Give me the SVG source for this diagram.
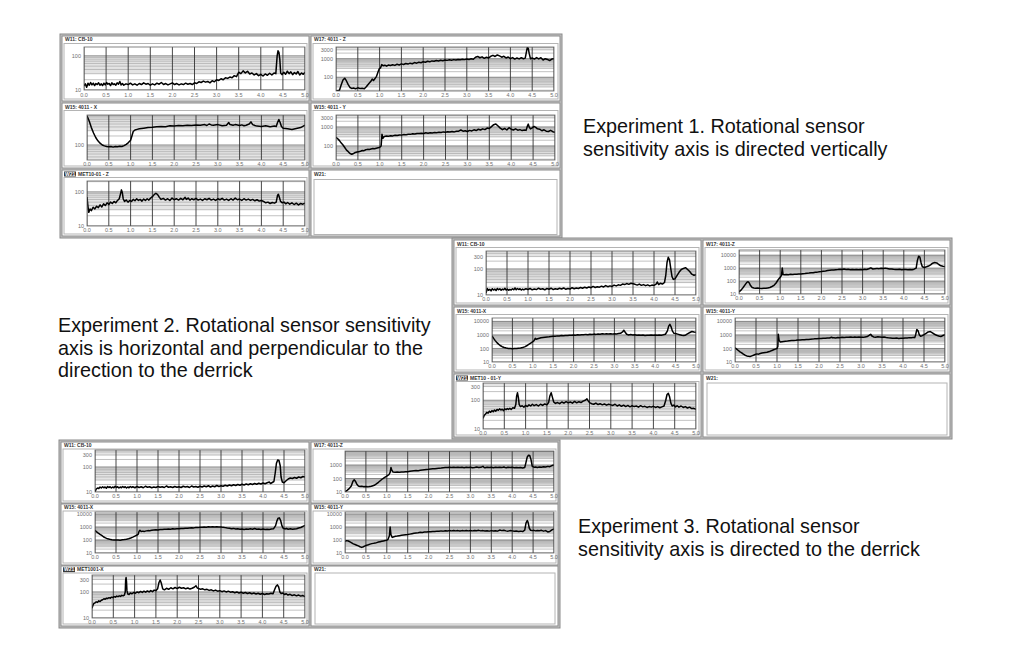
<svg xmlns="http://www.w3.org/2000/svg" xmlns:xlink="http://www.w3.org/1999/xlink" width="1024" height="662" viewBox="0 0 1024 662">
<style>
.pbg{fill:#c3c3c3;stroke:#8a8a8a;stroke-width:1}
.cell{fill:#fff;stroke:#8c8c8c;stroke-width:1}
.inner{fill:#fff;stroke:#b4b4b4;stroke-width:1}
.tr{fill:none;stroke:#000;stroke-width:1.5;stroke-linejoin:round}
.frame{fill:none;stroke:#666;stroke-width:0.8}
.hd{font-family:"Liberation Sans",Arial,sans-serif;font-weight:bold;font-size:5px;fill:#333}
.hw{font-family:"Liberation Sans",Arial,sans-serif;font-weight:bold;font-size:5px;fill:#fff}
.yl{font-family:"Liberation Sans",Arial,sans-serif;font-size:5.5px;fill:#707070;text-anchor:end}
.xl{font-family:"Liberation Sans",Arial,sans-serif;font-size:5.5px;fill:#707070;text-anchor:middle}
.cap{font-family:"Liberation Sans",Arial,sans-serif;font-size:19.8px;fill:#111}
</style>
<defs>
<g id="dec">
<rect x="0" y="-100" width="500" height="52.3" fill="#e4e4e4"/>
<path d="M0 -30.1H500M0 -47.7H500M0 -60.2H500M0 -69.9H500M0 -77.8H500M0 -84.5H500M0 -90.3H500M0 -95.4H500" fill="none" stroke="#a8a8a8" stroke-width="0.7" vector-effect="non-scaling-stroke"/>
</g>
<g id="grid">
<use xlink:href="#dec" href="#dec" y="-100"/>
<use xlink:href="#dec" href="#dec" y="-200"/>
<use xlink:href="#dec" href="#dec" y="-300"/>
<use xlink:href="#dec" href="#dec" y="-400"/>
<path d="M0 -100H500M0 -200H500M0 -300H500M0 -400H500M0 -500H500" fill="none" stroke="#7a7a7a" stroke-width="0.9" vector-effect="non-scaling-stroke"/>
<path d="M0 -500V-100M50 -500V-100M100 -500V-100M150 -500V-100M200 -500V-100M250 -500V-100M300 -500V-100M350 -500V-100M400 -500V-100M450 -500V-100M500 -500V-100" fill="none" stroke="#333" stroke-width="0.9" vector-effect="non-scaling-stroke"/>
</g>
<clipPath id="k1"><rect x="84" y="47" width="221" height="43"/></clipPath>
<clipPath id="k2"><rect x="336" y="47" width="218" height="44"/></clipPath>
<clipPath id="k3"><rect x="87" y="115" width="218" height="45"/></clipPath>
<clipPath id="k4"><rect x="336" y="115" width="219" height="45"/></clipPath>
<clipPath id="k5"><rect x="87" y="181" width="218" height="45"/></clipPath>
<clipPath id="k6"><rect x="486" y="251" width="210" height="44"/></clipPath>
<clipPath id="k7"><rect x="739" y="250" width="206" height="44"/></clipPath>
<clipPath id="k8"><rect x="492" y="318" width="204" height="44"/></clipPath>
<clipPath id="k9"><rect x="735" y="318" width="210" height="44"/></clipPath>
<clipPath id="k10"><rect x="483" y="383" width="213" height="46"/></clipPath>
<clipPath id="k11"><rect x="95" y="450" width="210" height="42"/></clipPath>
<clipPath id="k12"><rect x="345" y="451" width="209" height="41"/></clipPath>
<clipPath id="k13"><rect x="95" y="512" width="210" height="41"/></clipPath>
<clipPath id="k14"><rect x="345" y="512" width="209" height="41"/></clipPath>
<clipPath id="k15"><rect x="92" y="575" width="213" height="43"/></clipPath>
</defs>

<rect width="1024" height="662" fill="#fff"/>

<!-- ================= PANEL 1 ================= -->
<g id="experiment1">
<rect class="pbg" x="60" y="34" width="502" height="204"/>

<g id="e1-w11">
<rect class="cell" x="62" y="36" width="247" height="65"/>
<text class="hd" x="65" y="41">W11: CB-10</text>
<rect class="inner" x="64" y="43.5" width="243" height="55.5"/>
<g clip-path="url(#k1)"><rect x="84" y="47" width="221" height="43" fill="#fff"/>
<g transform="translate(84,124.13) scale(0.442,0.3413)"><use xlink:href="#grid" href="#grid"/>
<polyline class="tr" vector-effect="non-scaling-stroke" points="0,-112 3,-118 6,-108 9,-120 12,-114 15,-122 18,-115 21,-120 24,-113 27,-119 30,-116 33,-121 36,-114 39,-118 42,-113 45,-120 48,-115 51,-122 54,-117 57,-119 60,-113 63,-121 66,-116 69,-118 72,-114 75,-121 78,-117 81,-125 84,-115 87,-119 90,-114 95,-118 100,-116 105,-120 110,-115 115,-118 120,-114 125,-119 130,-116 135,-121 140,-117 145,-119 150,-114 155,-118 160,-115 165,-120 170,-117 175,-122 180,-116 185,-119 190,-115 195,-118 200,-121 205,-116 210,-119 215,-115 220,-118 225,-116 230,-120 235,-117 240,-119 245,-116 250,-121 255,-119 260,-124 265,-122 270,-126 275,-123 280,-125 285,-121 290,-127 295,-124 300,-130 305,-128 310,-133 315,-130 320,-136 325,-134 330,-138 335,-136 340,-142 345,-139 350,-152 355,-148 360,-156 365,-150 370,-155 375,-147 380,-150 385,-144 390,-148 395,-142 400,-146 405,-141 410,-147 415,-143 420,-149 425,-144 430,-150 434,-148 437,-200 439,-215 441,-210 443,-190 445,-150 448,-145 452,-152 456,-146 460,-155 464,-148 468,-153 472,-145 476,-151 480,-147 484,-154 488,-144 492,-150 496,-146 500,-152"/>
</g></g>
<rect class="frame" x="84" y="47" width="221" height="43"/>
<text class="yl" x="81" y="58">100</text><text class="yl" x="81" y="92">10</text>
<text class="xl" y="97"><tspan x="84">0.0</tspan><tspan x="106.1">0.5</tspan><tspan x="128.2">1.0</tspan><tspan x="150.3">1.5</tspan><tspan x="172.4">2.0</tspan><tspan x="194.5">2.5</tspan><tspan x="216.6">3.0</tspan><tspan x="238.7">3.5</tspan><tspan x="260.8">4.0</tspan><tspan x="282.9">4.5</tspan><tspan x="305">5.0</tspan></text>
</g>

<g id="e1-w17">
<rect class="cell" x="311" y="36" width="249" height="65"/>
<text class="hd" x="314" y="41">W17: 4011 - Z</text>
<rect class="inner" x="313" y="43.5" width="245" height="55.5"/>
<g clip-path="url(#k2)"><rect x="336" y="47" width="218" height="44" fill="#fff"/>
<g transform="translate(336,114.39) scale(0.436,0.18565)"><use xlink:href="#grid" href="#grid"/>
<polyline class="tr" vector-effect="non-scaling-stroke" points="0,-126 8,-130 12,-160 16,-185 20,-195 24,-180 28,-160 32,-145 36,-140 40,-142 45,-138 50,-143 55,-140 60,-141 65,-138 70,-150 75,-165 80,-178 83,-190 86,-183 90,-195 93,-205 96,-225 99,-245 102,-250 105,-268 108,-262 112,-265 116,-260 120,-266 125,-263 130,-267 135,-264 140,-270 145,-266 150,-272 155,-269 160,-274 165,-271 170,-276 175,-273 180,-279 185,-276 190,-281 195,-278 200,-284 205,-281 210,-286 215,-283 220,-288 225,-286 230,-290 235,-288 240,-292 245,-289 250,-293 255,-291 260,-294 265,-292 270,-295 275,-293 280,-296 285,-294 290,-297 295,-295 300,-298 305,-296 310,-300 315,-297 320,-308 325,-312 330,-305 335,-310 340,-302 345,-308 350,-304 355,-313 360,-318 365,-312 370,-320 375,-315 380,-308 385,-313 390,-304 395,-309 400,-300 405,-306 410,-298 415,-304 420,-299 425,-305 430,-300 434,-303 437,-340 439,-362 441,-355 443,-330 446,-300 450,-304 455,-298 460,-306 465,-299 470,-305 475,-293 480,-300 485,-296 490,-290 495,-298 500,-300"/>
</g></g>
<rect class="frame" x="336" y="47" width="218" height="44"/>
<text class="yl" x="333" y="51.8">3000</text><text class="yl" x="333" y="60.7">1000</text><text class="yl" x="333" y="79.3">100</text>
<text class="xl" y="97"><tspan x="336">0.0</tspan><tspan x="357.8">0.5</tspan><tspan x="379.6">1.0</tspan><tspan x="401.4">1.5</tspan><tspan x="423.2">2.0</tspan><tspan x="445">2.5</tspan><tspan x="466.8">3.0</tspan><tspan x="488.6">3.5</tspan><tspan x="510.4">4.0</tspan><tspan x="532.2">4.5</tspan><tspan x="554">5.0</tspan></text>
</g>

<g id="e1-w15x">
<rect class="cell" x="62" y="103" width="247" height="65"/>
<text class="hd" x="65" y="108.5">W15: 4011 - X</text>
<rect class="inner" x="64" y="110.5" width="243" height="55.5"/>
<g clip-path="url(#k3)"><rect x="87" y="115" width="218" height="45" fill="#fff"/>
<g transform="translate(87,205) scale(0.436,0.3)"><use xlink:href="#grid" href="#grid"/>
<polyline class="tr" vector-effect="non-scaling-stroke" points="0,-297 5,-280 10,-258 15,-240 20,-225 25,-214 30,-206 35,-200 40,-197 45,-195 50,-194 55,-195 60,-193 65,-195 70,-194 75,-196 80,-195 85,-198 90,-202 95,-208 100,-216 103,-230 106,-245 110,-250 115,-252 120,-254 130,-256 140,-258 150,-259 160,-261 170,-262 180,-261 190,-264 200,-263 210,-265 220,-264 230,-266 240,-265 250,-267 260,-266 270,-268 275,-265 280,-270 285,-267 290,-266 300,-268 310,-264 320,-266 325,-275 328,-268 335,-266 340,-268 350,-265 355,-267 360,-264 365,-266 372,-270 376,-277 380,-268 385,-265 390,-263 400,-262 410,-264 420,-261 430,-263 434,-262 437,-275 440,-285 443,-275 446,-262 450,-256 460,-254 470,-252 480,-255 490,-258 495,-262 500,-266"/>
</g></g>
<rect class="frame" x="87" y="115" width="218" height="45"/>
<text class="yl" x="84" y="147">100</text>
<text class="xl" y="166"><tspan x="87">0.0</tspan><tspan x="108.8">0.5</tspan><tspan x="130.6">1.0</tspan><tspan x="152.4">1.5</tspan><tspan x="174.2">2.0</tspan><tspan x="196">2.5</tspan><tspan x="217.8">3.0</tspan><tspan x="239.6">3.5</tspan><tspan x="261.4">4.0</tspan><tspan x="283.2">4.5</tspan><tspan x="305">5.0</tspan></text>
</g>

<g id="e1-w15y">
<rect class="cell" x="311" y="103" width="249" height="65"/>
<text class="hd" x="314" y="108.5">W15: 4011 - Y</text>
<rect class="inner" x="313" y="110.5" width="245" height="55.5"/>
<g clip-path="url(#k4)"><rect x="336" y="115" width="219" height="45" fill="#fff"/>
<g transform="translate(336,183.92) scale(0.438,0.18987)"><use xlink:href="#grid" href="#grid"/>
<polyline class="tr" vector-effect="non-scaling-stroke" points="0,-245 4,-238 8,-228 12,-215 16,-205 20,-192 24,-178 28,-170 32,-160 36,-156 40,-160 44,-166 48,-168 52,-170 56,-172 60,-176 64,-175 68,-180 72,-182 76,-181 80,-184 84,-186 88,-185 92,-188 96,-190 100,-193 103,-200 105,-262 107,-240 110,-250 115,-252 120,-251 125,-254 130,-253 135,-256 140,-255 145,-258 150,-257 155,-260 160,-259 165,-262 170,-261 175,-264 180,-263 185,-266 190,-265 195,-267 200,-266 205,-269 210,-267 215,-270 220,-268 225,-271 230,-270 235,-272 240,-271 245,-274 250,-272 255,-275 260,-273 265,-276 270,-274 275,-277 280,-278 285,-284 290,-278 295,-280 300,-276 305,-282 310,-279 315,-285 320,-281 325,-288 330,-284 335,-290 340,-286 345,-294 350,-292 355,-302 360,-312 365,-316 370,-305 375,-294 380,-286 385,-292 390,-284 395,-296 400,-288 405,-284 410,-290 415,-283 420,-286 425,-281 430,-284 434,-282 437,-305 439,-315 441,-300 444,-290 448,-295 452,-303 456,-298 460,-290 465,-288 470,-280 475,-285 480,-278 485,-276 490,-282 495,-275 500,-272"/>
</g></g>
<rect class="frame" x="336" y="115" width="219" height="45"/>
<text class="yl" x="333" y="119.9">3000</text><text class="yl" x="333" y="129">1000</text><text class="yl" x="333" y="147.9">100</text>
<text class="xl" y="166"><tspan x="336">0.0</tspan><tspan x="357.9">0.5</tspan><tspan x="379.8">1.0</tspan><tspan x="401.7">1.5</tspan><tspan x="423.6">2.0</tspan><tspan x="445.5">2.5</tspan><tspan x="467.4">3.0</tspan><tspan x="489.3">3.5</tspan><tspan x="511.2">4.0</tspan><tspan x="533.1">4.5</tspan><tspan x="555">5.0</tspan></text>
</g>

<g id="e1-w21met">
<rect class="cell" x="62" y="170" width="247" height="66"/>
<rect x="64" y="171.5" width="12" height="5" fill="#3a3a3a"/>
<text class="hw" x="65" y="175.5">W21</text>
<text class="hd" x="78" y="175.5">MET10-01 - Z</text>
<rect class="inner" x="64" y="177.5" width="243" height="56.5"/>
<g clip-path="url(#k5)"><rect x="87" y="181" width="218" height="45" fill="#fff"/>
<g transform="translate(87,260.09) scale(0.436,0.34091)"><use xlink:href="#grid" href="#grid"/>
<polyline class="tr" vector-effect="non-scaling-stroke" points="0,-185 2,-160 4,-140 7,-150 10,-145 14,-155 18,-150 22,-158 26,-154 30,-162 34,-156 38,-165 42,-160 46,-168 50,-163 54,-170 58,-166 62,-172 66,-168 70,-175 74,-180 77,-195 79,-206 81,-198 83,-180 86,-172 90,-176 94,-170 98,-175 102,-172 106,-178 110,-174 114,-180 118,-175 122,-178 126,-173 130,-179 134,-175 138,-180 142,-176 146,-182 150,-186 154,-192 158,-196 162,-192 166,-184 170,-178 175,-181 180,-176 185,-180 190,-175 195,-182 200,-177 205,-180 210,-176 215,-181 220,-177 225,-184 228,-178 232,-182 236,-176 240,-180 245,-177 250,-181 255,-176 260,-179 265,-175 270,-180 275,-177 280,-181 285,-176 290,-179 295,-175 300,-180 305,-177 310,-181 315,-176 320,-179 325,-175 330,-180 335,-176 340,-182 345,-177 350,-179 355,-175 360,-180 365,-176 370,-179 375,-175 380,-178 385,-174 390,-177 395,-173 400,-175 405,-172 410,-168 415,-170 420,-166 425,-169 430,-167 434,-170 437,-190 439,-193 441,-185 444,-172 448,-168 452,-170 456,-165 460,-169 465,-164 470,-168 475,-163 480,-167 485,-162 490,-166 495,-164 500,-167"/>
</g></g>
<rect class="frame" x="87" y="181" width="218" height="45"/>
<text class="yl" x="84" y="193.9">100</text><text class="yl" x="84" y="228">10</text>
<text class="xl" y="232"><tspan x="87">0.0</tspan><tspan x="108.8">0.5</tspan><tspan x="130.6">1.0</tspan><tspan x="152.4">1.5</tspan><tspan x="174.2">2.0</tspan><tspan x="196">2.5</tspan><tspan x="217.8">3.0</tspan><tspan x="239.6">3.5</tspan><tspan x="261.4">4.0</tspan><tspan x="283.2">4.5</tspan><tspan x="305">5.0</tspan></text>
</g>

<g id="e1-w21">
<rect class="cell" x="311" y="170" width="249" height="66"/>
<text class="hd" x="314" y="175.5">W21:</text>
<rect class="inner" x="314" y="179.5" width="243" height="55"/>
</g>
</g>

<!-- ================= PANEL 2 ================= -->
<g id="experiment2">
<rect class="pbg" x="452" y="238" width="500" height="201"/>

<g id="e2-w11">
<rect class="cell" x="454" y="240" width="247" height="65"/>
<text class="hd" x="457" y="245.5">W11: CB-10</text>
<rect class="inner" x="456" y="247.5" width="243" height="55.5"/>
<g clip-path="url(#k6)"><rect x="486" y="251" width="210" height="44" fill="#fff"/>
<g transform="translate(486,321.04) scale(0.42,0.26036)"><use xlink:href="#grid" href="#grid"/>
<polyline class="tr" vector-effect="non-scaling-stroke" points="0,-108 3,-125 6,-118 9,-122 12,-116 15,-124 18,-119 21,-123 24,-117 27,-125 30,-120 33,-124 36,-118 39,-123 42,-120 45,-126 48,-119 51,-123 54,-118 57,-122 60,-119 63,-124 66,-120 69,-127 72,-120 75,-125 78,-121 81,-124 84,-119 87,-123 90,-120 95,-124 100,-121 105,-125 110,-120 115,-123 120,-121 125,-126 130,-122 135,-124 140,-120 145,-125 150,-122 155,-126 160,-121 165,-124 170,-122 175,-126 180,-123 185,-127 190,-122 195,-125 200,-123 205,-128 210,-124 215,-127 220,-125 225,-129 230,-126 235,-130 240,-127 245,-131 250,-128 255,-133 260,-129 265,-132 270,-130 275,-134 280,-131 285,-136 290,-132 295,-135 300,-133 305,-138 310,-135 315,-139 320,-137 325,-142 330,-140 335,-144 340,-141 345,-145 350,-143 355,-141 360,-138 365,-142 370,-137 375,-140 380,-136 385,-139 390,-135 395,-138 400,-137 405,-142 408,-150 411,-140 415,-145 420,-142 425,-148 428,-175 431,-225 434,-245 437,-235 440,-200 443,-170 446,-160 450,-162 455,-175 460,-188 465,-198 470,-202 475,-205 480,-198 485,-190 490,-180 495,-176 500,-178"/>
</g></g>
<rect class="frame" x="486" y="251" width="210" height="44"/>
<text class="yl" x="483" y="258.5">300</text><text class="yl" x="483" y="271">100</text><text class="yl" x="483" y="297">10</text>
<text class="xl" y="301"><tspan x="486">0.0</tspan><tspan x="507">0.5</tspan><tspan x="528">1.0</tspan><tspan x="549">1.5</tspan><tspan x="570">2.0</tspan><tspan x="591">2.5</tspan><tspan x="612">3.0</tspan><tspan x="633">3.5</tspan><tspan x="654">4.0</tspan><tspan x="675">4.5</tspan><tspan x="696">5.0</tspan></text>
</g>

<g id="e2-w17">
<rect class="cell" x="703" y="240" width="247" height="65"/>
<text class="hd" x="706" y="245.5">W17: 4011-Z</text>
<rect class="inner" x="705" y="247.5" width="243" height="55.5"/>
<g clip-path="url(#k7)"><rect x="739" y="250" width="206" height="44" fill="#fff"/>
<g transform="translate(739,306.94) scale(0.412,0.12941)"><use xlink:href="#grid" href="#grid"/>
<polyline class="tr" vector-effect="non-scaling-stroke" points="0,-117 5,-130 10,-150 15,-172 19,-190 22,-195 25,-185 28,-165 32,-150 36,-147 40,-145 45,-146 50,-144 55,-143 60,-145 65,-144 70,-147 75,-150 80,-158 85,-167 90,-185 95,-210 100,-230 103,-242 105,-300 107,-250 110,-248 115,-250 120,-249 125,-252 130,-250 135,-253 140,-252 145,-255 150,-254 155,-257 160,-258 165,-261 170,-262 175,-265 180,-264 185,-268 190,-269 195,-272 200,-273 205,-276 210,-278 215,-281 220,-283 225,-285 230,-286 235,-288 240,-289 245,-291 250,-290 255,-293 260,-290 265,-291 270,-288 275,-290 280,-287 285,-289 290,-288 295,-290 300,-288 305,-291 310,-290 315,-295 320,-302 325,-293 330,-296 335,-298 340,-296 345,-299 350,-297 355,-300 360,-297 365,-294 370,-293 375,-291 380,-290 385,-289 390,-291 395,-288 400,-290 405,-289 410,-287 415,-290 420,-288 425,-292 430,-300 433,-360 436,-392 439,-385 442,-340 445,-310 450,-305 455,-310 460,-316 465,-325 470,-338 475,-343 480,-340 485,-328 490,-318 495,-315 500,-313"/>
</g></g>
<rect class="frame" x="739" y="250" width="206" height="44"/>
<text class="yl" x="736" y="257.2">10000</text><text class="yl" x="736" y="270.1">1000</text><text class="yl" x="736" y="283.1">100</text><text class="yl" x="736" y="296">10</text>
<text class="xl" y="300"><tspan x="739">0.0</tspan><tspan x="759.6">0.5</tspan><tspan x="780.2">1.0</tspan><tspan x="800.8">1.5</tspan><tspan x="821.4">2.0</tspan><tspan x="842">2.5</tspan><tspan x="862.6">3.0</tspan><tspan x="883.2">3.5</tspan><tspan x="903.8">4.0</tspan><tspan x="924.4">4.5</tspan><tspan x="945">5.0</tspan></text>
</g>

<g id="e2-w15x">
<rect class="cell" x="454" y="307" width="247" height="65"/>
<text class="hd" x="457" y="312.5">W15: 4011-X</text>
<rect class="inner" x="456" y="314.5" width="243" height="55.5"/>
<g clip-path="url(#k8)"><rect x="492" y="318" width="204" height="44" fill="#fff"/>
<g transform="translate(492,375.54) scale(0.408,0.13538)"><use xlink:href="#grid" href="#grid"/>
<polyline class="tr" vector-effect="non-scaling-stroke" points="0,-293 4,-275 8,-258 12,-243 16,-232 20,-222 25,-213 30,-207 35,-203 40,-200 45,-199 50,-198 55,-200 60,-199 65,-201 70,-203 75,-207 80,-212 85,-220 90,-230 95,-240 100,-250 103,-258 106,-275 108,-268 112,-272 116,-276 120,-279 125,-281 130,-283 135,-285 140,-286 145,-288 150,-290 155,-291 160,-293 165,-292 170,-295 175,-294 180,-296 185,-295 190,-298 195,-297 200,-299 205,-298 210,-301 215,-300 220,-302 225,-301 230,-304 235,-302 240,-305 245,-303 250,-306 255,-304 260,-307 265,-305 270,-308 275,-306 280,-309 285,-307 290,-308 295,-306 300,-309 305,-307 310,-310 315,-312 320,-322 323,-335 326,-322 330,-305 335,-300 340,-303 345,-299 350,-302 355,-298 360,-300 365,-297 370,-299 375,-296 380,-298 385,-297 390,-300 395,-297 400,-299 405,-297 410,-300 415,-298 420,-301 425,-305 430,-330 433,-365 436,-378 439,-360 442,-330 446,-312 450,-310 455,-306 460,-302 465,-298 470,-295 475,-300 480,-310 485,-318 490,-325 495,-322 500,-320"/>
</g></g>
<rect class="frame" x="492" y="318" width="204" height="44"/>
<text class="yl" x="489" y="323.4">10000</text><text class="yl" x="489" y="336.9">1000</text><text class="yl" x="489" y="350.5">100</text><text class="yl" x="489" y="364">10</text>
<text class="xl" y="368"><tspan x="492">0.0</tspan><tspan x="512.4">0.5</tspan><tspan x="532.8">1.0</tspan><tspan x="553.2">1.5</tspan><tspan x="573.6">2.0</tspan><tspan x="594">2.5</tspan><tspan x="614.4">3.0</tspan><tspan x="634.8">3.5</tspan><tspan x="655.2">4.0</tspan><tspan x="675.6">4.5</tspan><tspan x="696">5.0</tspan></text>
</g>

<g id="e2-w15y">
<rect class="cell" x="703" y="307" width="247" height="65"/>
<text class="hd" x="706" y="312.5">W15: 4011-Y</text>
<rect class="inner" x="705" y="314.5" width="243" height="55.5"/>
<g clip-path="url(#k9)"><rect x="735" y="318" width="210" height="44" fill="#fff"/>
<g transform="translate(735,375.54) scale(0.42,0.13538)"><use xlink:href="#grid" href="#grid"/>
<polyline class="tr" vector-effect="non-scaling-stroke" points="0,-205 4,-195 8,-185 12,-175 16,-168 20,-158 24,-150 28,-145 32,-142 36,-140 40,-145 44,-150 48,-155 52,-160 56,-158 60,-163 64,-166 68,-168 72,-170 76,-172 80,-176 84,-180 88,-185 92,-190 96,-195 100,-200 102,-215 103,-305 105,-260 108,-248 112,-250 116,-252 120,-254 125,-255 130,-257 135,-258 140,-259 145,-260 150,-262 155,-263 160,-265 165,-264 170,-267 175,-266 180,-268 185,-269 190,-271 195,-272 200,-274 205,-273 210,-276 215,-275 220,-278 225,-277 230,-283 233,-278 235,-280 240,-278 245,-281 250,-280 255,-283 260,-281 265,-283 270,-282 275,-284 280,-282 285,-285 290,-283 295,-284 300,-283 305,-282 310,-285 315,-288 320,-298 323,-305 326,-292 330,-285 335,-283 340,-286 345,-284 350,-282 355,-284 360,-281 365,-279 370,-278 375,-276 380,-275 385,-277 390,-274 395,-276 400,-275 405,-278 410,-277 415,-280 420,-279 425,-282 428,-280 430,-300 433,-340 436,-330 439,-300 442,-290 446,-295 450,-302 455,-312 460,-322 465,-325 470,-315 475,-305 480,-298 485,-292 490,-288 495,-296 500,-302"/>
</g></g>
<rect class="frame" x="735" y="318" width="210" height="44"/>
<text class="yl" x="732" y="323.4">10000</text><text class="yl" x="732" y="336.9">1000</text><text class="yl" x="732" y="350.5">100</text><text class="yl" x="732" y="364">10</text>
<text class="xl" y="368"><tspan x="735">0.0</tspan><tspan x="756">0.5</tspan><tspan x="777">1.0</tspan><tspan x="798">1.5</tspan><tspan x="819">2.0</tspan><tspan x="840">2.5</tspan><tspan x="861">3.0</tspan><tspan x="882">3.5</tspan><tspan x="903">4.0</tspan><tspan x="924">4.5</tspan><tspan x="945">5.0</tspan></text>
</g>

<g id="e2-w21met">
<rect class="cell" x="454" y="374" width="247" height="63"/>
<rect x="456" y="375.5" width="12" height="5" fill="#3a3a3a"/>
<text class="hw" x="457" y="379.5">W21</text>
<text class="hd" x="470" y="379.5">MET10 - 01-Y</text>
<rect class="inner" x="456" y="381.5" width="243" height="53.5"/>
<g clip-path="url(#k10)"><rect x="483" y="383" width="213" height="46" fill="#fff"/>
<g transform="translate(483,457.75) scale(0.426,0.2875)"><use xlink:href="#grid" href="#grid"/>
<polyline class="tr" vector-effect="non-scaling-stroke" points="0,-137 3,-148 6,-152 9,-158 12,-155 15,-162 18,-158 21,-164 24,-160 27,-166 30,-162 33,-168 36,-165 39,-170 42,-166 45,-169 48,-164 51,-170 54,-167 57,-171 60,-168 63,-172 66,-168 70,-174 74,-172 77,-185 79,-215 81,-226 83,-210 85,-185 88,-178 92,-181 96,-176 100,-182 104,-178 108,-184 112,-180 116,-186 120,-181 125,-185 130,-180 135,-186 140,-182 145,-187 150,-184 154,-192 157,-215 160,-226 163,-210 166,-194 170,-189 175,-192 180,-188 185,-194 190,-190 195,-195 200,-191 205,-194 210,-190 215,-196 220,-191 225,-195 230,-192 235,-197 240,-200 244,-205 247,-198 250,-192 255,-188 260,-186 265,-190 270,-185 275,-188 280,-184 285,-187 290,-183 295,-186 300,-184 305,-182 310,-186 315,-180 320,-184 325,-179 330,-183 335,-178 340,-182 345,-177 350,-181 355,-178 360,-180 365,-176 370,-181 375,-177 380,-179 385,-175 390,-178 395,-176 400,-179 405,-175 410,-178 415,-174 420,-177 425,-180 429,-200 432,-220 435,-224 438,-212 441,-190 444,-180 448,-183 452,-177 456,-181 460,-176 465,-180 470,-175 475,-178 480,-173 485,-176 490,-171 495,-172 500,-168"/>
</g></g>
<rect class="frame" x="483" y="383" width="213" height="46"/>
<text class="yl" x="480" y="388.5">300</text><text class="yl" x="480" y="402.2">100</text><text class="yl" x="480" y="431">10</text>
<text class="xl" y="435"><tspan x="483">0.0</tspan><tspan x="504.3">0.5</tspan><tspan x="525.6">1.0</tspan><tspan x="546.9">1.5</tspan><tspan x="568.2">2.0</tspan><tspan x="589.5">2.5</tspan><tspan x="610.8">3.0</tspan><tspan x="632.1">3.5</tspan><tspan x="653.4">4.0</tspan><tspan x="674.7">4.5</tspan><tspan x="696">5.0</tspan></text>
</g>

<g id="e2-w21">
<rect class="cell" x="703" y="374" width="247" height="63"/>
<text class="hd" x="706" y="379.5">W21:</text>
<rect class="inner" x="707" y="383" width="240" height="52"/>
</g>
</g>

<!-- ================= PANEL 3 ================= -->
<g id="experiment3">
<rect class="pbg" x="59" y="440" width="501" height="188"/>

<g id="e3-w11">
<rect class="cell" x="61" y="442" width="248" height="61"/>
<text class="hd" x="64" y="447">W11: CB-10</text>
<rect class="inner" x="63" y="449" width="244" height="52"/>
<g clip-path="url(#k11)"><rect x="95" y="450" width="210" height="42" fill="#fff"/>
<g transform="translate(95,517) scale(0.42,0.25)"><use xlink:href="#grid" href="#grid"/>
<polyline class="tr" vector-effect="non-scaling-stroke" points="0,-101 3,-112 6,-116 9,-114 12,-120 15,-116 18,-121 21,-117 24,-120 27,-115 30,-122 33,-118 36,-121 39,-116 42,-120 45,-117 48,-123 51,-118 54,-121 57,-116 60,-120 63,-117 66,-122 69,-118 72,-121 75,-116 78,-120 81,-117 84,-122 87,-118 90,-121 95,-117 100,-122 105,-118 110,-121 115,-117 120,-123 125,-119 130,-121 135,-117 140,-120 145,-118 150,-122 155,-119 160,-121 165,-118 170,-124 175,-119 180,-121 185,-118 190,-122 195,-119 200,-121 205,-118 210,-123 215,-120 220,-122 225,-118 230,-124 235,-120 240,-122 245,-119 250,-123 255,-120 260,-124 265,-121 270,-125 275,-120 280,-124 285,-121 290,-126 295,-122 300,-125 305,-123 310,-127 315,-124 320,-128 325,-125 330,-129 335,-126 340,-130 345,-127 350,-131 355,-128 360,-132 365,-129 370,-133 375,-130 380,-134 385,-131 390,-135 395,-132 400,-136 405,-133 410,-137 415,-140 418,-134 422,-138 426,-142 429,-175 432,-215 435,-228 438,-226 441,-205 443,-160 446,-140 450,-137 455,-145 460,-152 465,-156 470,-154 475,-158 480,-155 485,-160 490,-157 495,-162 500,-160"/>
</g></g>
<rect class="frame" x="95" y="450" width="210" height="42"/>
<text class="yl" x="92" y="457.1">300</text><text class="yl" x="92" y="469">100</text><text class="yl" x="92" y="494">10</text>
<text class="xl" y="498"><tspan x="95">0.0</tspan><tspan x="116">0.5</tspan><tspan x="137">1.0</tspan><tspan x="158">1.5</tspan><tspan x="179">2.0</tspan><tspan x="200">2.5</tspan><tspan x="221">3.0</tspan><tspan x="242">3.5</tspan><tspan x="263">4.0</tspan><tspan x="284">4.5</tspan><tspan x="305">5.0</tspan></text>
</g>

<g id="e3-w17">
<rect class="cell" x="311" y="442" width="247" height="61"/>
<text class="hd" x="314" y="447">W17: 4011-Z</text>
<rect class="inner" x="313" y="449" width="243" height="52"/>
<g clip-path="url(#k12)"><rect x="345" y="451" width="209" height="41" fill="#fff"/>
<g transform="translate(345,505.49) scale(0.418,0.13487)"><use xlink:href="#grid" href="#grid"/>
<polyline class="tr" vector-effect="non-scaling-stroke" points="0,-100 5,-112 10,-125 15,-145 19,-180 22,-190 25,-180 28,-160 32,-145 36,-140 40,-142 45,-139 50,-141 55,-138 60,-140 65,-145 70,-150 75,-160 80,-172 85,-185 90,-198 95,-208 100,-218 105,-228 108,-245 110,-282 112,-262 115,-248 120,-246 125,-248 130,-247 135,-249 140,-248 145,-250 150,-251 155,-253 160,-255 165,-257 170,-259 175,-258 180,-261 185,-263 190,-265 195,-267 200,-268 205,-270 210,-272 215,-273 220,-275 225,-277 230,-278 235,-280 240,-281 245,-282 250,-283 255,-281 260,-284 265,-282 270,-284 275,-281 280,-283 285,-280 290,-284 295,-281 300,-283 305,-280 310,-282 315,-285 320,-281 325,-283 330,-290 333,-282 335,-280 340,-283 345,-281 350,-284 355,-280 360,-283 365,-281 370,-284 375,-281 380,-286 383,-282 386,-280 390,-284 395,-281 400,-283 405,-280 410,-282 415,-279 420,-281 425,-278 430,-282 433,-320 436,-360 439,-372 442,-370 445,-340 448,-290 452,-284 456,-286 460,-282 465,-285 470,-283 475,-287 480,-285 485,-290 490,-288 495,-296 500,-300"/>
</g></g>
<rect class="frame" x="345" y="451" width="209" height="41"/>
<text class="yl" x="342" y="467">1000</text><text class="yl" x="342" y="480.5">100</text><text class="yl" x="342" y="494">10</text>
<text class="xl" y="498"><tspan x="345">0.0</tspan><tspan x="365.9">0.5</tspan><tspan x="386.8">1.0</tspan><tspan x="407.7">1.5</tspan><tspan x="428.6">2.0</tspan><tspan x="449.5">2.5</tspan><tspan x="470.4">3.0</tspan><tspan x="491.3">3.5</tspan><tspan x="512.2">4.0</tspan><tspan x="533.1">4.5</tspan><tspan x="554">5.0</tspan></text>
</g>

<g id="e3-w15x">
<rect class="cell" x="61" y="504" width="248" height="61"/>
<text class="hd" x="64" y="509">W15: 4011-X</text>
<rect class="inner" x="63" y="511" width="244" height="52"/>
<g clip-path="url(#k13)"><rect x="95" y="512" width="210" height="41" fill="#fff"/>
<g transform="translate(95,566.02) scale(0.42,0.13016)"><use xlink:href="#grid" href="#grid"/>
<polyline class="tr" vector-effect="non-scaling-stroke" points="0,-275 4,-262 8,-252 12,-243 16,-235 20,-225 25,-216 30,-209 35,-205 40,-202 45,-200 50,-199 55,-200 60,-198 65,-201 70,-203 75,-206 80,-210 85,-215 90,-222 95,-230 100,-238 103,-245 105,-268 107,-275 110,-265 114,-268 118,-266 122,-270 126,-272 130,-271 135,-274 140,-276 145,-278 150,-277 155,-280 160,-281 165,-283 170,-282 175,-284 180,-283 185,-286 190,-285 195,-287 200,-286 205,-289 210,-288 215,-291 220,-290 225,-292 230,-294 235,-293 240,-296 245,-295 250,-297 255,-298 260,-300 265,-298 270,-301 275,-300 280,-302 285,-300 290,-301 295,-299 300,-300 305,-297 310,-295 315,-292 320,-290 325,-287 330,-289 335,-284 340,-286 345,-283 350,-285 355,-281 360,-284 365,-282 370,-286 375,-283 380,-288 385,-282 390,-285 395,-281 400,-284 405,-280 410,-283 415,-281 420,-284 425,-286 430,-310 433,-345 436,-368 439,-370 442,-350 445,-310 448,-290 452,-285 456,-288 460,-283 465,-286 470,-282 475,-285 480,-287 485,-292 490,-296 495,-305 500,-312"/>
</g></g>
<rect class="frame" x="95" y="512" width="210" height="41"/>
<text class="yl" x="92" y="516">10000</text><text class="yl" x="92" y="529">1000</text><text class="yl" x="92" y="542">100</text><text class="yl" x="92" y="555">10</text>
<text class="xl" y="559"><tspan x="95">0.0</tspan><tspan x="116">0.5</tspan><tspan x="137">1.0</tspan><tspan x="158">1.5</tspan><tspan x="179">2.0</tspan><tspan x="200">2.5</tspan><tspan x="221">3.0</tspan><tspan x="242">3.5</tspan><tspan x="263">4.0</tspan><tspan x="284">4.5</tspan><tspan x="305">5.0</tspan></text>
</g>

<g id="e3-w15y">
<rect class="cell" x="311" y="504" width="247" height="61"/>
<text class="hd" x="314" y="509">W15: 4011-Y</text>
<rect class="inner" x="313" y="511" width="243" height="52"/>
<g clip-path="url(#k14)"><rect x="345" y="512" width="209" height="41" fill="#fff"/>
<g transform="translate(345,566.02) scale(0.418,0.13016)"><use xlink:href="#grid" href="#grid"/>
<polyline class="tr" vector-effect="non-scaling-stroke" points="0,-190 4,-195 8,-192 12,-185 16,-178 20,-170 24,-165 28,-160 32,-155 36,-148 40,-143 44,-148 48,-155 52,-160 56,-163 60,-168 64,-172 68,-174 72,-176 76,-180 80,-184 84,-187 88,-190 92,-193 96,-196 100,-198 103,-205 106,-230 108,-300 110,-240 113,-220 117,-225 121,-228 125,-230 130,-233 135,-236 140,-238 145,-240 150,-242 155,-245 160,-248 165,-251 170,-254 175,-256 180,-259 185,-258 190,-262 195,-261 200,-264 205,-263 210,-266 215,-265 220,-268 225,-267 230,-270 235,-268 240,-271 245,-269 250,-272 255,-270 260,-273 265,-270 270,-272 275,-269 280,-272 285,-270 290,-273 295,-270 300,-272 305,-270 310,-273 315,-271 320,-274 325,-270 330,-272 335,-269 340,-271 345,-268 350,-272 355,-269 360,-271 365,-268 370,-276 375,-272 380,-275 385,-270 390,-268 395,-272 400,-270 405,-267 410,-269 415,-266 420,-268 425,-265 430,-275 433,-330 436,-350 438,-335 441,-290 444,-275 448,-272 452,-274 456,-270 460,-273 465,-271 470,-274 475,-268 480,-272 485,-262 490,-266 495,-278 500,-285"/>
</g></g>
<rect class="frame" x="345" y="512" width="209" height="41"/>
<text class="yl" x="342" y="516">10000</text><text class="yl" x="342" y="529">1000</text><text class="yl" x="342" y="542">100</text><text class="yl" x="342" y="555">10</text>
<text class="xl" y="559"><tspan x="345">0.0</tspan><tspan x="365.9">0.5</tspan><tspan x="386.8">1.0</tspan><tspan x="407.7">1.5</tspan><tspan x="428.6">2.0</tspan><tspan x="449.5">2.5</tspan><tspan x="470.4">3.0</tspan><tspan x="491.3">3.5</tspan><tspan x="512.2">4.0</tspan><tspan x="533.1">4.5</tspan><tspan x="554">5.0</tspan></text>
</g>

<g id="e3-w21met">
<rect class="cell" x="61" y="566" width="248" height="60"/>
<rect x="63" y="567.2" width="12" height="5" fill="#3a3a3a"/>
<text class="hw" x="64" y="571.2">W21</text>
<text class="hd" x="77" y="571.2">MET1001-X</text>
<rect class="inner" x="63" y="573" width="244" height="51"/>
<g clip-path="url(#k15)"><rect x="92" y="575" width="213" height="43" fill="#fff"/>
<g transform="translate(92,644.06) scale(0.426,0.26061)"><use xlink:href="#grid" href="#grid"/>
<polyline class="tr" vector-effect="non-scaling-stroke" points="0,-137 2,-148 4,-155 7,-158 10,-162 13,-160 16,-166 19,-163 22,-168 25,-170 28,-174 31,-172 34,-176 37,-175 40,-178 43,-176 46,-180 49,-178 52,-182 55,-180 58,-184 61,-182 64,-185 67,-183 70,-187 73,-185 76,-188 78,-200 79,-245 80,-255 81,-240 82,-205 84,-192 87,-190 90,-196 94,-193 98,-198 102,-195 106,-200 110,-197 114,-202 118,-198 122,-203 126,-199 130,-204 134,-200 138,-205 142,-201 146,-207 150,-205 154,-212 157,-235 160,-246 163,-232 166,-212 170,-208 175,-214 180,-210 185,-216 190,-212 195,-217 200,-213 205,-218 210,-214 215,-216 220,-212 225,-215 230,-211 235,-214 240,-218 244,-224 247,-216 250,-213 255,-210 260,-212 265,-208 270,-210 275,-206 280,-208 285,-204 290,-207 295,-203 300,-205 305,-201 310,-204 315,-200 320,-203 325,-199 330,-201 335,-197 340,-200 345,-196 350,-199 355,-195 360,-198 365,-194 370,-197 375,-193 380,-196 385,-192 390,-195 395,-191 400,-194 405,-190 410,-193 415,-192 420,-195 425,-193 429,-210 432,-222 435,-227 438,-220 441,-200 444,-194 448,-196 452,-190 456,-193 460,-188 465,-191 470,-186 475,-189 480,-185 485,-188 490,-184 495,-186 500,-182"/>
</g></g>
<rect class="frame" x="92" y="575" width="213" height="43"/>
<text class="yl" x="89" y="581.5">300</text><text class="yl" x="89" y="593.9">100</text><text class="yl" x="89" y="620">10</text>
<text class="xl" y="624"><tspan x="92">0.0</tspan><tspan x="113.3">0.5</tspan><tspan x="134.6">1.0</tspan><tspan x="155.9">1.5</tspan><tspan x="177.2">2.0</tspan><tspan x="198.5">2.5</tspan><tspan x="219.8">3.0</tspan><tspan x="241.1">3.5</tspan><tspan x="262.4">4.0</tspan><tspan x="283.7">4.5</tspan><tspan x="305">5.0</tspan></text>
</g>

<g id="e3-w21">
<rect class="cell" x="311" y="566" width="247" height="60"/>
<text class="hd" x="314" y="571.2">W21:</text>
<rect class="inner" x="315" y="573" width="240" height="51"/>
</g>
</g>

<!-- ================= CAPTIONS ================= -->
<g id="caption1">
<text class="cap" x="583" y="133">Experiment 1. Rotational sensor</text>
<text class="cap" x="583" y="155.5">sensitivity axis is directed vertically</text>
</g>
<g id="caption2">
<text class="cap" x="58" y="332">Experiment 2. Rotational sensor sensitivity</text>
<text class="cap" x="58" y="354.5">axis is horizontal and perpendicular to the</text>
<text class="cap" x="58" y="377">direction to the derrick</text>
</g>
<g id="caption3">
<text class="cap" x="578" y="533">Experiment 3. Rotational sensor</text>
<text class="cap" x="578" y="555.5">sensitivity axis is directed to the derrick</text>
</g>
</svg>
